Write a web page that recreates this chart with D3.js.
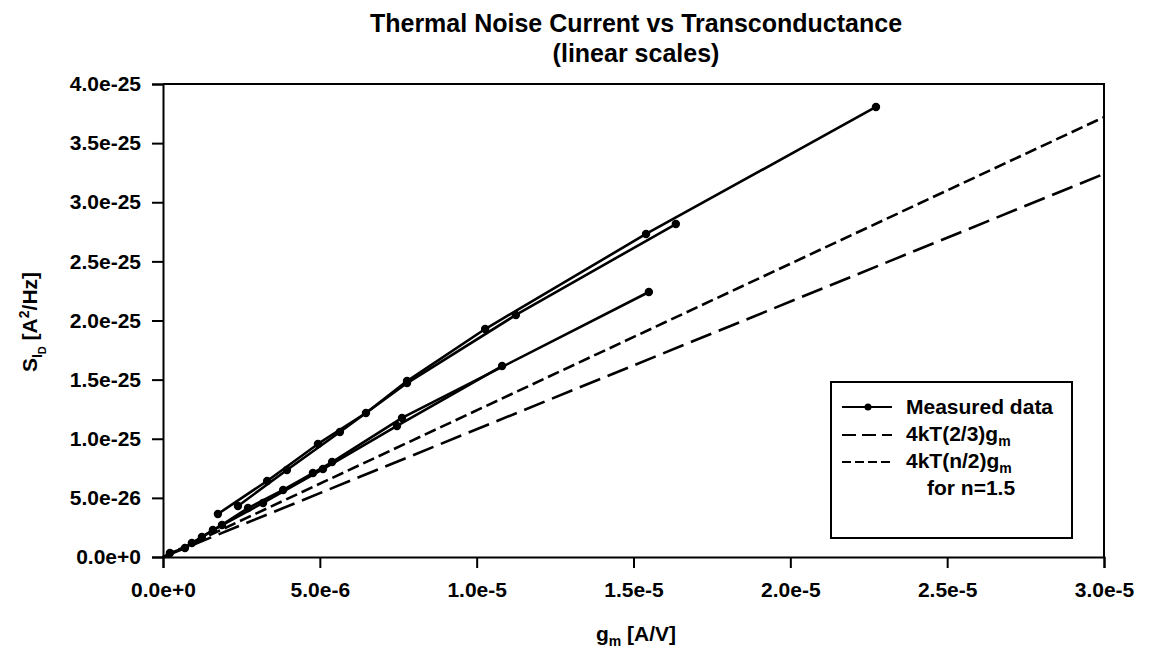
<!DOCTYPE html>
<html>
<head>
<meta charset="utf-8">
<script src="https://cdn.jsdelivr.net/npm/d3@7"></script>
<style>
  body { margin: 0; background: #fff; }
  svg { font-family: "Liberation Sans", Arial, sans-serif; font-weight: bold; }
</style>
</head>
<body>
<svg id="chart" width="1149" height="652"></svg>
<script>
// measured series, [gm (A/V), S_ID (A^2/Hz)]
var measured1 = [[1.75e-6, 3.64e-26], [3.32e-6, 6.43e-26], [4.94e-6, 9.56e-26], [6.47e-6, 1.218e-25],
    [7.78e-6, 1.488e-25], [1.027e-5, 1.928e-25], [1.54e-5, 2.732e-25], [2.273e-5, 3.806e-25]];
var measured2 = [[2.39e-6, 4.31e-26], [3.95e-6, 7.36e-26], [5.64e-6, 1.057e-25], [7.78e-6, 1.471e-25],
    [1.125e-5, 2.047e-25], [1.635e-5, 2.816e-25]];
var measured3 = [[2.2e-7, 3.4e-27], [7.0e-7, 7.6e-27], [1.24e-6, 1.69e-26], [1.88e-6, 2.71e-26],
    [2.71e-6, 4.14e-26], [3.83e-6, 5.67e-26], [4.78e-6, 7.10e-26], [5.39e-6, 8.03e-26],
    [7.62e-6, 1.176e-25], [1.549e-5, 2.241e-25]];
var measured4 = [[9.2e-7, 1.18e-26], [1.59e-6, 2.28e-26], [3.19e-6, 4.57e-26], [5.10e-6, 7.44e-26],
    [7.46e-6, 1.108e-25], [1.081e-5, 1.615e-25]];
var measuredSeries = [measured1, measured2, measured3, measured4];

// theory lines, end points
var theory23 = [[0, 0], [3.0e-5, 3.24e-25]];   // 4kT(2/3)gm
var theoryN2 = [[0, 0], [3.0e-5, 3.72e-25]];   // 4kT(n/2)gm, n=1.5

var xTicks = [0, 5e-6, 1e-5, 1.5e-5, 2e-5, 2.5e-5, 3e-5];
var yTicks = [0, 5e-26, 1e-25, 1.5e-25, 2e-25, 2.5e-25, 3e-25, 3.5e-25, 4e-25];

function draw() {
    var svg = d3.select('#chart');
    var mLeft = 163, mRight = 1104, mTop = 84, mBottom = 557;

    var x = d3.scaleLinear().domain([0, 3e-5]).range([mLeft, mRight]);
    var y = d3.scaleLinear().domain([0, 4e-25]).range([mBottom, mTop]);

    // format like 5.0e-6, 0.0e+0
    function sci(v) {
        if (v === 0) return '0.0e+0';
        return v.toExponential(1);
    }

    // title
    svg.append('text')
        .attr('x', 636).attr('y', 32)
        .attr('text-anchor', 'middle')
        .style('font-size', '25px')
        .text('Thermal Noise Current vs Transconductance');
    svg.append('text')
        .attr('x', 636).attr('y', 62)
        .attr('text-anchor', 'middle')
        .style('font-size', '25px')
        .text('(linear scales)');

    // frame (top and right)
    svg.append('path')
        .attr('d', `M${mLeft},${mTop}H${mRight}V${mBottom}`)
        .attr('fill', 'none').attr('stroke', '#000').attr('stroke-width', 2);

    // axes
    var xAxis = svg.append('g')
        .attr('transform', `translate(0,${mBottom})`)
        .call(d3.axisBottom(x).tickValues(xTicks).tickFormat(sci).tickSize(11).tickPadding(14));
    var yAxis = svg.append('g')
        .attr('transform', `translate(${mLeft},0)`)
        .call(d3.axisLeft(y).tickValues(yTicks).tickFormat(sci).tickSize(11).tickPadding(11));
    [xAxis, yAxis].forEach(function(a) {
        a.select('.domain').attr('stroke-width', 2);
        a.selectAll('.tick line').attr('stroke-width', 2);
        a.selectAll('text').style('font-size', '21px').style('font-weight', 'bold')
            .style('font-family', '"Liberation Sans", Arial, sans-serif')
            .attr('fill', '#000');
    });

    // axis titles
    var xt = svg.append('text')
        .attr('x', 636).attr('y', 641)
        .attr('text-anchor', 'middle')
        .style('font-size', '21px');
    xt.append('tspan').text('g');
    xt.append('tspan').attr('dy', 5).style('font-size', '14px').text('m');
    xt.append('tspan').attr('dy', -5).text('  [A/V]');

    var yt = svg.append('text')
        .attr('transform', 'translate(37,322) rotate(-90)')
        .attr('text-anchor', 'middle')
        .style('font-size', '21px');
    yt.append('tspan').text('S');
    yt.append('tspan').attr('dy', 5).style('font-size', '14px').text('I');
    yt.append('tspan').attr('dy', 4).style('font-size', '11px').text('D');
    yt.append('tspan').attr('dy', -9).text('  [A');
    yt.append('tspan').attr('dy', -8).style('font-size', '14px').text('2');
    yt.append('tspan').attr('dy', 8).text('/Hz]');

    var line = d3.line().x(d => x(d[0])).y(d => y(d[1]));

    // theory lines
    svg.append('path').datum(theory23)
        .attr('d', line).attr('fill', 'none').attr('stroke', '#000')
        .attr('stroke-width', 2.6).attr('stroke-dasharray', '22,8');
    svg.append('path').datum(theoryN2)
        .attr('d', line).attr('fill', 'none').attr('stroke', '#000')
        .attr('stroke-width', 2.6).attr('stroke-dasharray', '12,5');

    // measured data
    var g = svg.append('g');
    measuredSeries.forEach(function(s) {
        g.append('path').datum(s)
            .attr('d', line).attr('fill', 'none').attr('stroke', '#000')
            .attr('stroke-width', 2.6).attr('stroke-linejoin', 'round');
        g.append('g').selectAll('circle').data(s).join('circle')
            .attr('cx', d => x(d[0])).attr('cy', d => y(d[1]))
            .attr('r', 4.2).attr('fill', '#000');
    });

    // legend
    var lg = svg.append('g').attr('transform', 'translate(831,382)');
    lg.append('rect').attr('width', 241).attr('height', 156)
        .attr('fill', '#fff').attr('stroke', '#000').attr('stroke-width', 2);
    var rows = [
        {y: 25, dash: null, dot: true},
        {y: 53, dash: '14,6', dot: false},
        {y: 80, dash: '9,4', dot: false}
    ];
    rows.forEach(function(r) {
        lg.append('line').attr('x1', 11).attr('x2', 61).attr('y1', r.y).attr('y2', r.y)
            .attr('stroke', '#000').attr('stroke-width', 2)
            .attr('stroke-dasharray', r.dash);
        if (r.dot) lg.append('circle').attr('cx', 37).attr('cy', r.y).attr('r', 3.5);
    });
    lg.append('text').attr('x', 75).attr('y', 32).style('font-size', '21px').text('Measured data');
    var l2 = lg.append('text').attr('x', 75).attr('y', 59).style('font-size', '21px');
    l2.append('tspan').text('4kT(2/3)g');
    l2.append('tspan').attr('dy', 5).style('font-size', '14px').text('m');
    var l3 = lg.append('text').attr('x', 75).attr('y', 86).style('font-size', '21px');
    l3.append('tspan').text('4kT(n/2)g');
    l3.append('tspan').attr('dy', 5).style('font-size', '14px').text('m');
    lg.append('text').attr('x', 96).attr('y', 113).style('font-size', '21px').text('for n=1.5');
}
draw();
</script>
</body>
</html>
